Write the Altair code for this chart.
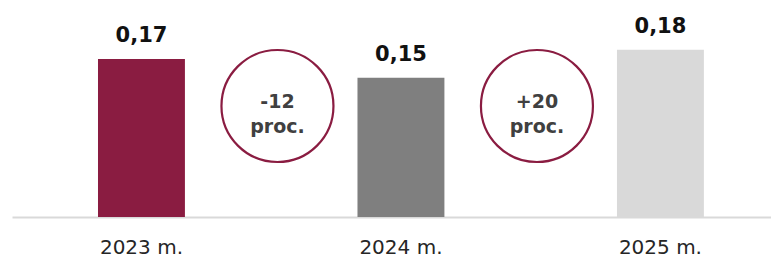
import altair as alt
import pandas as pd

categories = ["2023 m.", "2024 m.", "2025 m."]
values = [0.17, 0.15, 0.18]
value_labels = ["0,17", "0,15", "0,18"]
bar_colors = ["#8A1C41", "#7F7F7F", "#D9D9D9"]

change_from = ["2023 m.", "2024 m."]
change_text = ["-12\nproc.", "+20\nproc."]

bars_df = pd.DataFrame({"cat": categories, "value": values, "label": value_labels})
chg_df = pd.DataFrame({"cat": change_from, "text": change_text})

FONT = "DejaVu Sans"

x_enc = alt.X(
    "cat:N",
    sort=categories,
    title=None,
    scale=alt.Scale(paddingInner=0.665, paddingOuter=0.295, align=0.5617),
    axis=alt.Axis(
        labelAngle=0, ticks=False, domainColor="#D9D9D9", domainWidth=2,
        labelFontSize=20, labelColor="#262626", labelPadding=20, labelFont=FONT,
        grid=False,
    ),
)
y_enc = alt.Y("value:Q", scale=alt.Scale(domain=[0, 0.225], nice=False), axis=None)

bars = alt.Chart(bars_df).mark_bar().encode(
    x=x_enc,
    y=y_enc,
    color=alt.Color("cat:N", scale=alt.Scale(domain=categories, range=bar_colors), legend=None),
)

labels = alt.Chart(bars_df).mark_text(
    dy=-17, baseline="alphabetic", fontSize=21, fontWeight="bold", font=FONT, color="#111111"
).encode(x=alt.X("cat:N", sort=categories), y="value:Q", text="label:N")

circles = alt.Chart(chg_df).mark_point(
    shape="circle", size=12544, filled=False, stroke="#8A1C41", strokeWidth=2.2,
    opacity=1, xOffset=136,
).encode(x=alt.X("cat:N", sort=categories), y=alt.value(98))

circle_text = alt.Chart(chg_df).mark_text(
    lineBreak="\n", lineHeight=25, baseline="alphabetic", fontSize=19,
    fontWeight="bold", font=FONT, color="#404040", xOffset=136,
).encode(x=alt.X("cat:N", sort=categories), y=alt.value(100), text="text:N")

chart = (
    alt.layer(bars, labels, circles, circle_text)
    .properties(
        width=759, height=209,
        autosize=alt.AutoSizeParams(type="none"),
        padding={"left": 4, "top": 0, "right": 0, "bottom": 37},
    )
    .configure_view(strokeWidth=0)
)

chart.save("out.html", embed_options={"renderer": "svg", "actions": False})
